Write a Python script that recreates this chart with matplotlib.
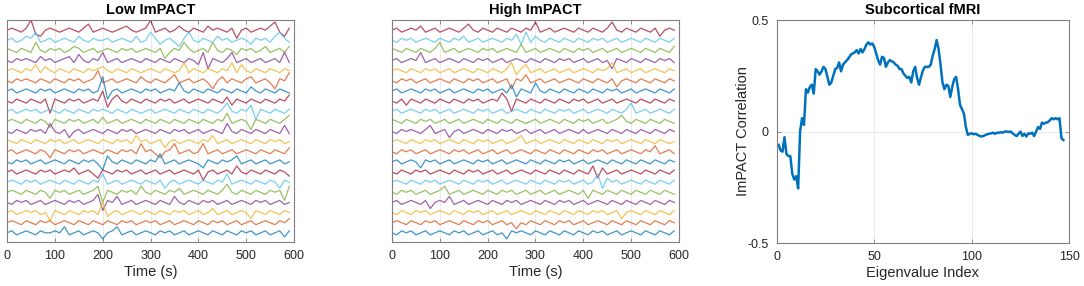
#!/usr/bin/env python3

import numpy as np
import matplotlib.pyplot as plt

plt.rcParams['font.family'] = ['Liberation Sans', 'DejaVu Sans']

# sample times of the traces (s)
time_s = np.arange(60) * 10

# Low ImPACT traces, top to bottom (units of 0.1 trace spacing, approx.)
low_traces = [
  [0,1,0,-1,1,5,-2,-3,0,1, 0,-1,0,1,0,-1,1,3,-1,0, 1,0,-1,0,1,2,0,-1,0,1, 5,-1,0,1,-1,0,2,0,-1,1, 0,-1,2,0,1,0,-1,1,-4,0, 1,-1,0,1,0,2,4,-1,-3,1],
  [0,1,-1,0,2,1,4,-1,0,1, -1,0,1,0,-1,2,0,-1,1,0, 0,1,-1,0,1,0,-1,2,-1,0, 4,1,-2,0,1,-1,-3,1,4,0, -1,1,0,-1,2,0,1,-1,0,1, 0,-2,1,0,1,-1,2,4,1,-1],
  [1,0,-1,1,0,-1,4,0,-1,1, 0,1,-1,0,2,1,-1,0,1,-1, 0,1,0,-1,1,0,1,-1,0,1, 0,-1,1,-4,-1,1,0,4,1,-1, 0,1,-1,4,0,-1,1,0,-2,1, 0,1,-1,0,2,-1,0,1,-1,2],
  [0,-1,1,0,1,0,-1,2,0,1, -1,0,1,2,-1,3,0,-1,1,0, 4,-1,0,1,-1,0,1,0,-1,1, 0,-1,1,0,-1,1,0,-1,1,0, -2,4,-4,1,0,-1,1,4,-1,0, 1,-1,0,1,-1,0,1,-1,4,-1],
  [0,1,0,-1,1,0,3,-1,2,0, -1,1,0,-1,1,0,-1,1,0,1, 2,0,-1,1,0,-1,1,0,-1,0, 1,0,-1,1,0,-1,0,4,-1,1, 0,-1,1,0,-1,1,0,4,-1,3, 0,-1,1,0,-1,1,0,-1,1,0],
  [0,-1,1,0,1,0,-1,1,0,-1, 1,0,-1,1,0,1,-1,0,1,5, -1,0,1,-1,0,1,0,-1,2,0, -1,1,0,-1,1,3,-1,0,1,-1, 0,1,-1,-4,0,2,-1,1,0,-1, 1,2,-1,0,1,-1,-4,1,0,4],
  [0,1,-1,0,1,0,-1,1,0,1, -1,0,1,0,-1,1,0,1,-1,0, 7,-4,0,1,-1,0,1,0,-1,1, 0,1,-1,0,1,0,4,0,-1,1, 0,-1,1,0,-1,1,0,-1,1,0, -1,2,0,-1,1,0,-1,1,0,-1],
  [0,-1,1,0,-1,1,0,-1,1,-6, 1,0,-1,1,0,1,-1,0,1,0, 5,-3,1,3,0,-1,1,0,-1,1, 0,-1,1,0,1,-1,0,1,-1,0, 1,0,-1,1,0,-1,2,-2,1,0, -1,1,0,-1,1,0,-1,1,0,3],
  [0,1,-1,0,1,0,1,-1,0,1, 0,-1,1,0,-1,1,0,-1,1,0, 1,0,-1,1,0,-1,1,0,-1,0, 1,-1,0,1,0,-1,1,0,-1,1, 0,-1,1,0,-1,1,4,0,-1,1, 0,3,-4,1,0,-1,1,0,-1,1],
  [0,1,0,-1,1,0,-1,1,0,-3, 1,0,-1,1,0,1,-1,0,1,-1, 2,-1,0,1,-1,0,1,0,-1,1, 0,-1,1,0,-1,1,0,-1,1,0, -1,1,0,-1,1,0,4,-1,0,1, 0,-4,1,0,-1,1,0,-1,1,3],
  [0,-1,1,0,-1,1,0,1,-1,4, 0,-1,1,-3,0,1,-1,0,1,0, -1,1,0,-1,1,0,1,-1,0,1, 0,-1,1,0,-1,1,0,1,-1,0, 1,-1,0,1,0,-1,4,0,-1,1, 0,-1,1,0,-1,1,0,-1,3,-1],
  [1,0,-1,1,0,-1,1,0,-1,1, 0,1,-1,0,1,-1,0,1,0,-1, 1,0,-1,1,0,1,-1,3,0,1, -1,0,1,-3,0,1,-1,0,1,0, -1,1,0,3,-1,0,1,-1,0,1, 0,-1,1,0,-1,1,0,1,-1,0],
  [0,1,-1,0,1,0,-1,1,0,-3, 1,0,-1,1,0,1,-1,0,1,0, -1,1,0,-1,1,0,1,-1,4,0, 1,-1,-3,0,1,4,-1,0,1,-1, 0,4,-1,0,1,-1,0,1,-1,0, 1,0,-1,1,0,-1,1,0,-1,2],
  [0,-1,1,0,1,-1,0,1,-1,0, 1,0,-1,1,0,-1,1,0,1,-1, -4,3,0,-1,1,0,-1,1,0,-1, 1,0,4,-1,0,1,-1,0,1,0, -1,-3,1,0,-1,1,0,1,3,-1, 0,1,-1,0,1,-1,0,1,-1,0],
  [0,1,-1,0,1,0,-1,1,0,1, -1,0,1,0,2,-1,0,1,-1,-3, 1,0,-1,1,0,1,-1,0,1,-1, 0,1,-1,0,1,-1,0,1,0,-1, 1,-4,0,1,-1,0,1,-1,3,0, -1,1,0,-1,1,0,-1,1,0,-2],
  [0,1,0,-1,1,0,1,-1,0,1, 0,-1,1,0,-1,1,0,-1,1,0, 4,-1,0,1,-1,0,1,0,-1,1, 0,-1,1,-3,0,1,-1,0,1,0, -1,1,0,-1,1,0,4,-1,0,1, 0,-1,1,0,-1,1,0,-3,1,0],
  [0,1,0,-1,1,0,-1,1,0,-3, 1,0,1,-1,0,1,-1,0,1,3, -5,1,0,-1,1,0,1,-1,3,0, -1,1,0,-1,1,0,2,-1,0,1, 0,-1,1,0,-1,1,4,0,-1,1, 0,-1,1,0,-1,1,0,1,-4,3],
  [0,-1,1,0,1,-1,0,1,-1,0, 1,0,-1,1,0,1,-1,0,1,4, -4,1,0,3,-1,0,1,-1,0,1, 0,-1,1,0,-1,3,0,-1,1,0, -1,1,0,1,-1,0,1,-1,0,1, 0,-1,1,0,1,-1,0,1,-1,0],
  [0,1,-1,0,1,0,1,-1,0,-4, 1,0,-1,1,0,-1,1,0,1,-1, 5,-2,0,1,-1,0,1,0,-1,1, 0,-1,1,0,-1,1,0,1,-1,0, 1,-1,0,2,-1,0,1,-1,0,1, 0,-3,1,0,-1,1,0,-1,1,0],
  [0,1,0,-1,1,0,-1,1,0,1, -1,0,1,0,-1,1,0,-1,1,0, -1,1,0,-1,1,0,1,-1,0,1, 0,1,-1,0,1,-1,0,1,0,-1, 1,0,-1,1,0,1,-1,0,1,-1, 0,1,-1,0,1,0,-1,1,0,2],
  [0,1,-1,0,1,0,-1,1,0,0, 1,0,3,-1,0,1,-1,0,1,0, -3,0,1,3,-1,0,1,-1,0,1, 0,-1,1,0,1,-1,0,1,-1,0, 1,0,-1,1,0,-1,1,0,-1,1, 0,1,-1,0,1,-1,0,1,-2,1],
]

# High ImPACT traces, top to bottom
high_traces = [
  [0,1,-1,0,1,0,2,-1,0,1, -1,0,1,0,-1,1,3,0,-1,1, 0,-1,1,0,-1,1,0,-1,1,0, 4,-1,0,1,-1,0,1,0,-1,1, 0,-1,1,0,-1,1,4,0,-1,1, 0,-1,1,0,-1,1,-3,0,1,0],
  [0,-1,1,0,1,-1,0,1,0,-1, 1,0,-1,1,0,2,-1,0,1,-1, 0,1,0,-1,1,0,3,-2,4,-1, 2,0,-1,1,0,-1,1,0,-1,1, 0,-1,1,0,1,-1,0,1,-1,0, 1,0,-1,1,0,-1,1,0,-1,1],
  [1,0,-1,1,0,-1,1,0,-1,1, 4,-1,0,1,-1,0,1,0,-1,1, 0,1,-1,0,1,0,-1,3,-1,0, 1,-1,0,1,0,-1,1,0,-1,1, 0,1,-1,0,1,-1,0,1,-1,0, 1,0,-1,1,0,-1,1,0,-1,2],
  [0,1,-1,0,1,0,4,-1,0,1, -1,0,1,0,-1,1,0,-1,1,0, 1,-1,0,1,-1,0,1,0,-1,1, 0,-1,1,0,-1,1,0,1,-1,0, 1,-1,0,1,-1,0,-4,1,0,-1, 1,0,-1,1,0,-1,1,0,1,-1],
  [0,1,0,-1,1,0,-1,1,0,1, -1,0,1,-1,0,1,0,-1,1,0, -1,1,0,-1,1,4,-2,1,3,-1, 0,1,-1,0,1,-1,0,1,-1,0, 1,0,-1,1,0,1,4,-1,0,1, -1,0,1,-1,0,1,0,-1,1,0],
  [0,-1,1,0,1,-1,0,1,-1,0, 1,0,-1,1,0,-1,1,0,1,-1, 0,1,-1,0,1,-4,1,0,3,-1, 0,1,-1,0,1,-1,0,1,0,-1, 1,0,-1,1,0,-1,1,-3,0,1, 0,-1,1,0,-1,1,0,-1,1,0],
  [0,1,-1,0,1,0,-1,1,0,1, -1,0,1,-1,0,1,0,-1,1,0, 1,-1,0,1,-1,3,-3,1,0,-1, 4,0,-1,1,0,-1,1,0,-1,1, 0,-1,1,0,-1,1,0,1,-1,0, 1,-1,0,1,0,-1,1,0,-1,1],
  [0,-1,1,-2,1,0,-1,1,0,-1, 1,0,-1,1,0,-1,1,0,1,-1, 0,1,0,4,1,-5,1,0,-1,1, 0,-1,1,0,-1,1,0,-1,1,0, 1,-1,0,1,-1,0,1,-1,0,1, 0,-1,1,0,-1,1,0,-1,1,0],
  [0,1,-1,0,1,0,-1,1,0,1, -1,0,1,-1,0,1,0,-1,1,0, 1,-1,0,1,-1,0,1,0,-1,1, 0,-1,1,0,-1,1,0,1,-1,0, 1,-1,0,1,0,-1,1,0,-1,1, 4,-1,0,1,-1,0,1,0,-1,1],
  [1,0,-1,1,0,-1,1,0,1,-1, 0,1,-1,0,1,-1,0,1,0,-1, 1,0,-1,1,0,-1,1,0,-1,0, 1,-1,0,1,0,-1,1,0,-1,1, 0,1,-1,0,1,-1,0,1,3,0, -1,1,0,-1,1,0,-1,1,0,-1],
  [0,-1,1,0,1,0,-1,1,3,-1, 0,1,-3,0,1,-1,0,1,0,-1, 1,0,-1,1,0,1,-1,0,1,-1, 0,1,-1,0,1,-1,0,1,0,-1, 1,-1,0,1,0,-1,1,0,-1,1, 0,-1,1,0,-1,1,0,-1,1,0],
  [0,1,0,-1,1,0,-1,1,0,1, -1,0,1,0,-1,1,0,-1,1,0, 1,-1,0,1,-1,0,1,3,-1,0, 1,-1,0,1,0,-1,1,0,-1,1, 0,-1,1,0,-1,1,0,1,-1,0, 1,0,-1,1,0,-1,1,0,-1,0],
  [0,-1,1,0,1,-1,0,1,-1,0, 1,0,-1,1,0,1,-1,0,1,-1, 0,1,-1,0,1,-1,0,1,0,-1, 1,0,-1,1,0,-1,1,0,-1,1, 0,-1,1,0,1,-1,0,1,-1,0, 1,0,-1,1,0,3,-1,0,1,-1],
  [0,1,-1,0,1,0,-3,1,0,1, -1,0,1,-1,0,1,0,-1,1,0, 1,-1,0,1,-1,0,1,0,-1,1, 0,-1,1,0,-1,1,0,1,-1,0, 1,-1,0,1,0,-1,1,0,-1,1, 0,-1,1,0,-1,1,0,-1,1,0],
  [0,-1,1,0,-1,1,0,1,-1,0, 1,0,-1,1,0,-1,1,0,1,-1, 0,1,-1,0,1,-1,0,1,0,-1, 1,0,-1,1,0,-1,1,0,-1,1, 0,-1,3,-3,2,-1,0,1,-1,0, 1,0,-1,1,0,-1,1,0,-1,1],
  [0,1,0,-1,1,0,-1,1,0,1, -1,0,1,0,-1,1,0,-1,1,0, 1,-1,0,1,-1,0,1,0,-1,1, 0,-1,1,0,-1,1,0,1,-1,0, 1,-1,0,4,-3,2,0,1,-1,0, 1,0,-1,1,0,-1,1,0,-1,1],
  [0,-1,1,0,1,-1,0,1,-1,0, 1,3,-1,0,1,-1,0,1,0,-1, 1,0,-1,1,0,1,-1,0,1,-1, 0,1,-1,0,1,-1,0,1,0,-1, 1,-3,1,0,-1,1,0,-1,1,0, -1,1,0,-1,1,0,-1,1,0,-1],
  [0,1,-1,0,1,0,-1,1,-3,0, 1,0,3,-1,0,1,-1,0,1,0, -1,1,0,-1,1,0,1,-1,0,1, 0,-1,1,0,-1,1,0,1,-1,0, 1,-1,0,1,0,-1,1,0,-1,1, 0,-1,1,0,-1,1,0,-1,1,0],
  [0,-1,1,0,-1,1,0,1,-1,0, 1,0,-1,1,0,-1,1,0,1,-1, 0,1,-1,0,1,-1,0,1,0,-1, 1,0,-1,1,0,-1,1,0,-1,1, 0,-1,1,0,1,-1,0,1,-3,0, 1,0,-1,1,0,-1,1,0,-1,1],
  [0,1,0,-1,1,0,-1,1,0,1, -1,0,1,0,-1,1,0,-1,1,0, 1,-1,0,1,-1,0,-3,0,-1,1, 0,-1,1,0,-1,1,0,1,-1,0, 1,-1,0,1,0,-1,1,0,-1,1, 0,-1,1,0,-1,1,0,-1,1,0],
  [0,-1,1,0,1,-1,0,1,-1,0, 1,0,-1,1,0,1,-1,0,1,-1, 0,1,-1,0,-3,1,0,1,0,-1, 1,0,-1,1,0,-1,1,0,-1,1, 0,-1,1,0,1,-1,0,1,-1,0, 1,0,-1,1,0,-1,1,0,-1,1],
]

# ImPACT correlation per eigenvalue index (1..147)
eig_corr = [
  -0.06, -0.085, -0.09, -0.025, -0.10, -0.11, -0.11, -0.19, -0.215, -0.20,
  -0.255, 0.0, 0.06, 0.03, 0.19, 0.175, 0.20, 0.21, 0.17, 0.28,
  0.27, 0.255, 0.27, 0.29, 0.28, 0.245, 0.21, 0.22, 0.25, 0.28,
  0.285, 0.31, 0.27, 0.30, 0.31, 0.32, 0.33, 0.345, 0.35, 0.355,
  0.365, 0.35, 0.37, 0.355, 0.37, 0.39, 0.40, 0.39, 0.395, 0.38,
  0.35, 0.32, 0.30, 0.335, 0.33, 0.29, 0.31, 0.32, 0.315, 0.31,
  0.30, 0.295, 0.28, 0.28, 0.26, 0.25, 0.24, 0.245, 0.22, 0.27,
  0.29, 0.24, 0.21, 0.245, 0.275, 0.29, 0.29, 0.29, 0.30, 0.34,
  0.37, 0.41, 0.37, 0.30, 0.22, 0.19, 0.21, 0.205, 0.155, 0.20,
  0.235, 0.245, 0.19, 0.12, 0.10, 0.08, 0.02, -0.015, -0.01, -0.008,
  -0.012, -0.01, -0.015, -0.02, -0.022, -0.02, -0.015, -0.012, -0.01, -0.008,
  -0.005, -0.01, -0.005, -0.005, -0.003, -0.005, 0.0, 0.0, -0.002, 0.0,
  -0.008, -0.015, -0.02, -0.01, 0.0, -0.02, -0.01, -0.022, -0.008, -0.01,
  -0.005, -0.02, 0.0, 0.02, 0.012, 0.04, 0.035, 0.04, 0.042, 0.05,
  0.06, 0.055, 0.06, 0.055, 0.06, -0.03, -0.038,
]
eig_index = np.arange(1, len(eig_corr) + 1)

# MATLAB default line colours, bottom trace first
colors = ['#0072BD', '#D95319', '#EDB120', '#7E2F8E', '#77AC30', '#4DBEEE', '#A2142F']
axis_grey = '#7f7f7f'
text_col = '#262626'


def style_axes(ax):
  for s in ax.spines.values():
    s.set_color(axis_grey)
    s.set_linewidth(0.8)
  ax.tick_params(direction='in', colors=axis_grey, labelcolor=text_col,
                 labelsize=9, length=3, width=0.6, top=True, right=True, pad=6)


def plot_traces(ax, traces, title):
  n = len(traces)
  for i, tr in enumerate(traces):
    k = n - 1 - i
    ax.plot(time_s, k + 0.2 * np.array(tr), color=colors[k % 7], lw=0.9, alpha=0.75)
  ax.set_xlim(0, 600)
  ax.set_ylim(-0.9, n - 1 + 1.0)
  ax.set_xticks(np.arange(0, 601, 100))
  ax.set_yticks([])
  ax.grid(axis='x', color='#e6e6e6', lw=0.6)
  ax.set_axisbelow(True)
  style_axes(ax)
  ax.set_xlabel('Time (s)', fontsize=10.5, color=text_col, labelpad=2)
  ax.set_title(title, fontsize=10.5, fontweight='bold', color='black', pad=4)


fig = plt.figure(figsize=(10.84, 2.86), dpi=100)
ax1 = fig.add_axes([0.0065, 0.154, 0.2648, 0.776])
ax2 = fig.add_axes([0.3616, 0.154, 0.2648, 0.776])
ax3 = fig.add_axes([0.7165, 0.150, 0.2699, 0.780])

plot_traces(ax1, low_traces, 'Low ImPACT')
plot_traces(ax2, high_traces, 'High ImPACT')

ax3.plot(eig_index, eig_corr, color='#0072BD', lw=1.8)
ax3.set_xlim(0, 150)
ax3.set_ylim(-0.5, 0.5)
ax3.set_xticks([0, 50, 100, 150])
ax3.set_yticks([-0.5, 0, 0.5])
ax3.set_yticklabels(['-0.5', '0', '0.5'])
ax3.grid(color='#e6e6e6', lw=0.6)
ax3.set_axisbelow(True)
style_axes(ax3)
ax3.set_xlabel('Eigenvalue Index', fontsize=10.5, color=text_col, labelpad=2)
ax3.set_ylabel('ImPACT Correlation', fontsize=10.5, color=text_col, labelpad=-2)
ax3.set_title('Subcortical fMRI', fontsize=10.5, fontweight='bold', color='black', pad=4)

fig.savefig('out.png', dpi=100)
